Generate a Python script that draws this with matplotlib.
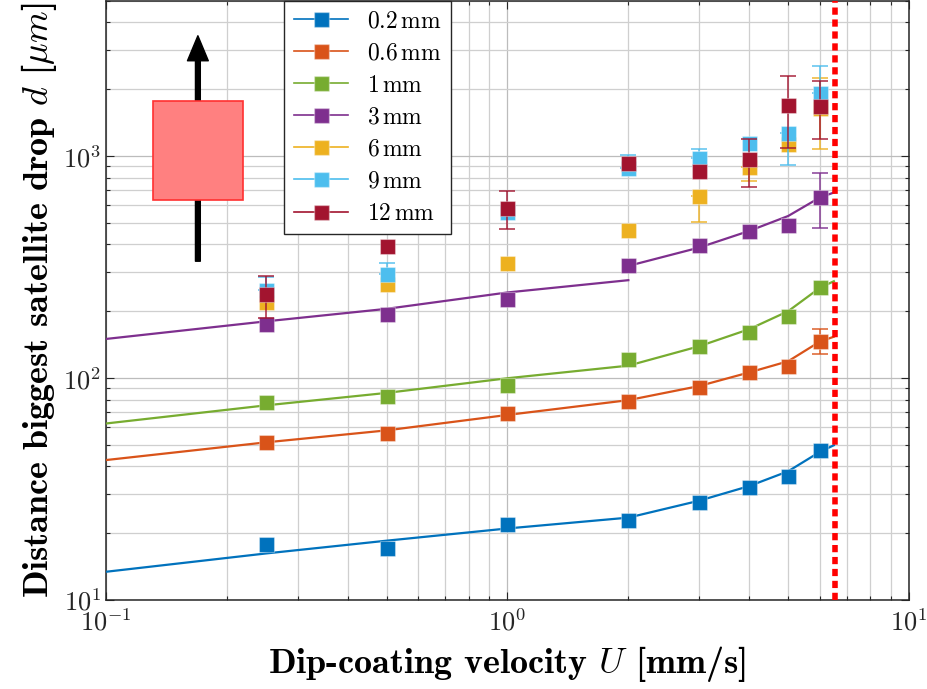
import matplotlib.pyplot as plt
from matplotlib.lines import Line2D
from matplotlib.patches import Rectangle

plt.rcParams['font.family'] = 'cmr10'
plt.rcParams['mathtext.fontset'] = 'cm'
plt.rcParams['axes.formatter.use_mathtext'] = True

# dip-coating velocities [mm/s]
u = [0.25, 0.5, 1, 2, 3, 4, 5, 6]

# measured distances [um] for each wire diameter
d_02 = [17.9, 17.1, 22.0, 22.9, 27.7, 32.4, 36.3, 47.2]
d_06 = [51.7, 56.8, 69.8, 79.1, 91.5, 107, 113, 147.6]
d_1 = [78.3, 83.4, 93.5, 122, 140, 162, 191, 258]
d_3 = [176, 195, 226, 322, 396, 458, 488, 653]
d_6 = [220, 264, 330, 463, 659, 889, 1133, 1640]
d_9 = [250, 295, 558, 883, 982, 1145, 1265, 1918]
d_12 = [238, 394, 581, 927, 853, 969, 1698, 1675]

# fit curves: low-velocity branch and high-velocity branch
fit_lo_u = [0.1, 0.25, 0.5, 1, 2]
fit_hi_u = [2, 3, 4, 5, 6, 6.5]
fit_lo_02 = [13.4, 16.2, 18.5, 21.0, 23.5]
fit_hi_02 = [23.5, 28.0, 32.6, 38.0, 46.5, 49.8]
fit_lo_06 = [42.7, 51.3, 58.1, 68.2, 79.5]
fit_hi_06 = [79.5, 92, 106, 119, 146, 153.5]
fit_lo_1 = [62.4, 75.3, 85.7, 99.8, 113.7]
fit_hi_1 = [113.7, 139, 166, 200, 255, 273]
fit_lo_3 = [150, 180, 205, 243, 276]
fit_hi_3 = [320, 387, 460, 537, 651, 685]

# visible error bars: (u, lower, upper)
err_06 = ([6], [128], [166])
err_3 = ([6], [473], [836])
err_6 = ([3, 4, 6], [507, 776, 1075], [659, 889, 2243])
err_9 = ([0.25, 0.5, 2, 3, 5, 6], [250, 295, 883, 982, 910, 1918], [285, 331, 1010, 1075, 1265, 2542])
err_12 = ([0.25, 1, 4, 5, 6], [186, 470, 728, 1090, 1194], [288, 697, 1200, 2306, 2175])

labels = [r'$0.2\,\mathrm{mm}$', r'$0.6\,\mathrm{mm}$', r'$1\,\mathrm{mm}$', r'$3\,\mathrm{mm}$',
          r'$6\,\mathrm{mm}$', r'$9\,\mathrm{mm}$', r'$12\,\mathrm{mm}$']
colors = ['#0072BD', '#D95319', '#77AC30', '#7E2F8E', '#EDB120', '#4DBEEE', '#A2142F']

u_limit = 6.55

# red "spread" box and arrow
box_u = [0.131, 0.220]
box_d = [632, 1770]
arrow_u = 0.1694
arrow_d = [336, 3485]

data = [d_02, d_06, d_1, d_3, d_6, d_9, d_12]
fits = [(fit_lo_02, fit_hi_02), (fit_lo_06, fit_hi_06), (fit_lo_1, fit_hi_1), (fit_lo_3, fit_hi_3),
        None, None, None]
errs = [None, err_06, None, err_3, err_6, err_9, err_12]

fig = plt.figure(figsize=(9.28, 6.89), dpi=100)
ax = fig.add_axes([0.1142, 0.1292, 0.8653, 0.8694])

for i in range(len(data)):
    c = colors[i]
    if fits[i] is not None:
        lo, hi = fits[i]
        ax.plot(fit_lo_u, lo, color=c, lw=1.6, zorder=3)
        ax.plot(fit_hi_u, hi, color=c, lw=1.6, zorder=3)
    if errs[i] is not None:
        eu, elo, ehi = errs[i]
        center = [data[i][u.index(x)] for x in eu]
        yerr = [[cc - l for cc, l in zip(center, elo)], [h - cc for cc, h in zip(center, ehi)]]
        ax.errorbar(eu, center, yerr=yerr, fmt='none', ecolor=c, elinewidth=1.2,
                    capsize=5.5, capthick=1.2, alpha=0.85, zorder=4 + 2 * i)
    ax.plot(u, data[i], ls='none', marker='s', ms=10.8, mfc=c, mec=(1, 1, 1, 0.35), mew=0.8,
            zorder=5 + 2 * i)

ax.axvline(u_limit, color='red', lw=4, ls=(0, (1.3, 0.85)), zorder=30)

ax.annotate('', xy=(arrow_u, arrow_d[1]), xytext=(arrow_u, arrow_d[0]),
            arrowprops=dict(facecolor='k', edgecolor='k', width=3.5, headwidth=15,
                            headlength=18, shrink=0), zorder=20)
ax.add_patch(Rectangle((box_u[0], box_d[0]), box_u[1] - box_u[0], box_d[1] - box_d[0],
                       facecolor='#FF8080', edgecolor='#FF3030', lw=1.2, zorder=21))

ax.set_xscale('log')
ax.set_yscale('log')
ax.set_xlim(0.1, 10)
ax.set_ylim(10, 5000)

ax.set_axisbelow(True)
ax.grid(True, which='major', color='#bcbcbc', lw=0.9)
ax.grid(True, which='minor', color='#cfcfcf', lw=0.9)
ax.tick_params(which='both', direction='in', top=True, right=True, labelsize=19, colors='#262626')
ax.tick_params(which='major', length=6, width=0.8)
ax.tick_params(which='minor', length=3, width=0.8)
ax.tick_params(axis='x', pad=6)
for sp in ax.spines.values():
    sp.set_linewidth(1.1)
    sp.set_color('#262626')

ax.set_xlabel(r'Dip-coating velocity $U$ [mm/s]', fontfamily='cmb10', fontsize=26, labelpad=6)
ax.set_ylabel(r'Distance biggest satellite drop $d$ [$\mu m$]', fontfamily='cmb10', fontsize=26,
              labelpad=3)

handles = [Line2D([], [], color=c, lw=1.2, marker='s', ms=10.8, mfc=c, mec=(1, 1, 1, 0.35))
           for c in colors]
leg = ax.legend(handles, labels, loc='upper left', bbox_to_anchor=(0.222, 1.0),
                borderaxespad=0, fontsize=17, fancybox=False, framealpha=1,
                edgecolor='#262626', handlelength=2.3, labelspacing=0.42)
leg.get_frame().set_linewidth(1.0)
leg.set_zorder(40)

fig.savefig('out.png', dpi=100)
